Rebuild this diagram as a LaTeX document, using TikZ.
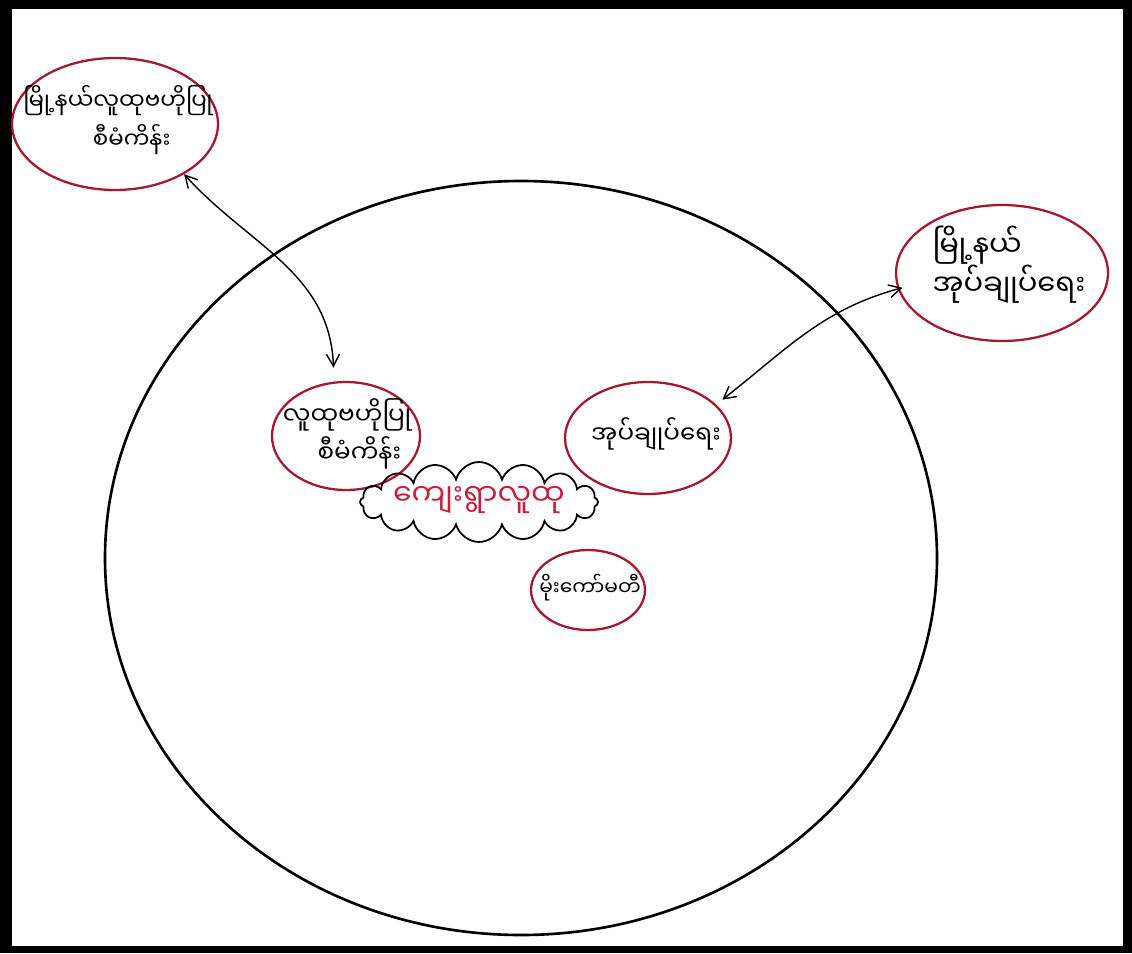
\documentclass[tikz,border=0pt]{standalone}
\usepackage{fontspec}
\newfontfamily\mya[Script=Myanmar]{Noto Sans Myanmar UI}
\usetikzlibrary{shapes.geometric,shapes.symbols,arrows.meta}
\definecolor{ered}{RGB}{165,25,45}
\definecolor{tred}{RGB}{200,30,60}
\begin{document}
\begin{tikzpicture}[x=0.02cm,y=-0.02cm,
  bub/.style={ellipse, draw=ered, line width=1.3pt, inner sep=0pt},
  txt/.style={font=\mya\fontsize{#1}{22}\selectfont, align=center, inner sep=0pt},
  txt/.default=14,
  link/.style={<->, >={Straight Barb[length=2.4mm,width=2.6mm]}, line width=0.8pt},
]
\fill[black] (0,0) rectangle (1132,953);
\fill[white] (12,9) rectangle (1123,946);
\useasboundingbox (0,0) rectangle (1132,953);
\draw[line width=1.5pt] (521,558) ellipse [x radius=416, y radius=377];

\node[bub, minimum width=4.12cm, minimum height=2.64cm] (tl) at (115,124) {};
\node[txt=13] (tlt) at (118,120) {မြို့နယ်လူထုဗဟိုပြု\\\hspace*{1.2em}စီမံကိန်း};

\node[bub, minimum width=4.24cm, minimum height=2.72cm] (rt) at (1002,273) {};
\node[txt=16.5, align=left] (rtt) at (1009,265) {မြို့နယ်\\အုပ်ချုပ်ရေး};

\node[bub, minimum width=2.96cm, minimum height=2.16cm] (ml) at (346,436) {};
\node[txt=14] (mlt) at (347,434) {လူထုဗဟိုပြု\\\hspace*{1em}စီမံကိန်း};

\node[bub, minimum width=3.32cm, minimum height=2.24cm] (mr) at (648,438) {};
\node[txt=14] (mrt) at (656,434) {အုပ်ချုပ်ရေး};

\node[cloud, draw, line width=1pt, cloud puffs=16, cloud ignores aspect,
      minimum width=4.76cm, minimum height=1.6cm, inner sep=0pt] (cl) at (479,502) {};
\node[txt=17, text=tred] (clt) at (479,500) {ကျေးရွာလူထု};

\node[bub, minimum width=2.28cm, minimum height=1.6cm] (sm) at (588,590) {};
\node[txt=11.5] (smt) at (590,588) {မိုးကော်မတီ};

\draw[link] (tl.-36) to[out=-48, in=92] ([yshift=0.28cm]ml.103);
\draw[link] ([xshift=0.1cm]rt.188) to[out=195, in=38] ([xshift=0.12cm,yshift=0.1cm]mr.26);
\end{tikzpicture}
\end{document}
